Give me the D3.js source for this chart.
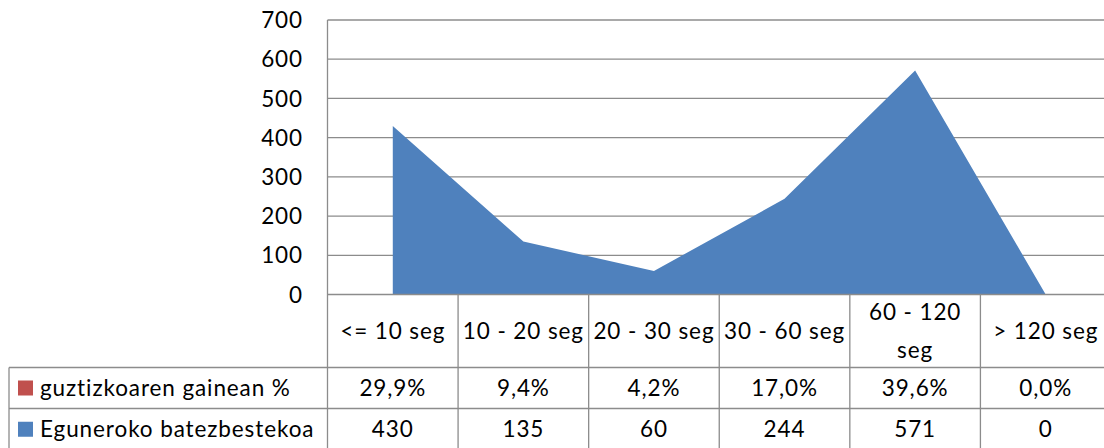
<!DOCTYPE html>
<html>
<head>
<meta charset="utf-8">
<script src="https://cdn.jsdelivr.net/npm/d3@7"></script>
<style>
  body { margin: 0; background: #fff; }
  text { font-family: Lato, "Open Sans", sans-serif; fill: #000; font-size: 22.5px; letter-spacing: 0.9px; }
</style>
</head>
<body>
<div class="chart"></div>
<script>
// data
var categories = ["<= 10 seg", "10 - 20 seg", "20 - 30 seg", "30 - 60 seg", "60 - 120 seg", "> 120 seg"];
var percentLabels = ["29,9%", "9,4%", "4,2%", "17,0%", "39,6%", "0,0%"];
var dailyAverage = [430, 135, 60, 244, 571, 0];
var yTicks = [0, 100, 200, 300, 400, 500, 600, 700];
var seriesNames = ["guztizkoaren gainean %", "Eguneroko batezbestekoa"];

var width = 1104, height = 448;
var plot = {left: 327.5, right: 1111, top: 20, bottom: 294.5};
var rowLines = [294.5, 367.5, 408.5, 450];
var legendLeft = 9;
var gridColor = "#8c8c8c";

var svg = d3.select(".chart").append("svg")
    .attr("width", width)
    .attr("height", height);

// scales
var x = d3.scaleBand().domain(categories).range([plot.left, plot.right]);
var y = d3.scaleLinear().domain([0, 700]).range([plot.bottom, plot.top]);

// gridlines
svg.append("g").selectAll("line")
    .data(yTicks.filter(function (d) { return d > 0; }))
    .enter().append("line")
    .attr("x1", plot.left).attr("x2", plot.right)
    .attr("y1", function (d) { return y(d); })
    .attr("y2", function (d) { return y(d); })
    .attr("stroke", gridColor).attr("stroke-width", 1.3);

// the area
var area = d3.area()
    .x(function (d, i) { return x(categories[i]) + x.bandwidth() / 2; })
    .y0(y(0))
    .y1(function (d) { return y(d); });

svg.append("path")
    .datum(dailyAverage)
    .attr("d", area)
    .attr("fill", "#4f81bd");

// y axis labels
svg.append("g").selectAll("text")
    .data(yTicks)
    .enter().append("text")
    .attr("x", 303)
    .attr("y", function (d) { return y(d); })
    .attr("dy", "0.36em")
    .attr("text-anchor", "end")
    .text(function (d) { return d; });

// table lines
var table = svg.append("g").attr("stroke", gridColor).attr("stroke-width", 1.3);

table.append("line")
    .attr("x1", plot.left).attr("x2", plot.right)
    .attr("y1", rowLines[0]).attr("y2", rowLines[0]);

table.selectAll(".hrow")
    .data(rowLines.slice(1))
    .enter().append("line")
    .attr("class", "hrow")
    .attr("x1", legendLeft).attr("x2", plot.right)
    .attr("y1", function (d) { return d; })
    .attr("y2", function (d) { return d; });

// left axis line + column boundaries
var bounds = categories.map(function (c) { return x(c); }).concat([plot.right]);
table.selectAll(".vcol")
    .data(bounds)
    .enter().append("line")
    .attr("class", "vcol")
    .attr("x1", function (d) { return d; })
    .attr("x2", function (d) { return d; })
    .attr("y1", function (d, i) { return i === 0 ? plot.top : plot.bottom; })
    .attr("y2", rowLines[3]);

table.append("line")
    .attr("x1", legendLeft).attr("x2", legendLeft)
    .attr("y1", rowLines[1]).attr("y2", rowLines[3]);

// category header row (wrap when too wide)
var header = svg.append("g").selectAll("text")
    .data(categories)
    .enter().append("text")
    .attr("text-anchor", "middle")
    .attr("x", function (d) { return x(d) + x.bandwidth() / 2; })
    .attr("y", (rowLines[0] + rowLines[1]) / 2)
    .attr("dy", "0.36em")
    .text(function (d) { return d; });

header.each(function (d) {
    var t = d3.select(this);
    if (this.getComputedTextLength() > x.bandwidth() - 4) {
        var words = d.split(" ");
        var first = words.slice(0, words.length - 1).join(" ");
        var last = words[words.length - 1];
        t.text(null);
        t.append("tspan").attr("x", t.attr("x")).attr("dy", "-0.5em").text(first);
        t.append("tspan").attr("x", t.attr("x")).attr("dy", "1.72em").text(last);
    }
});

// data rows
var rows = [percentLabels, dailyAverage];
var rowColors = ["#c0504d", "#4f81bd"];

rows.forEach(function (vals, r) {
    var cy = (rowLines[r + 1] + rowLines[r + 2]) / 2;
    svg.append("g").selectAll("text")
        .data(vals)
        .enter().append("text")
        .attr("text-anchor", "middle")
        .attr("x", function (d, i) { return x(categories[i]) + x.bandwidth() / 2; })
        .attr("y", cy)
        .attr("dy", "0.36em")
        .text(function (d) { return d; });

    svg.append("rect")
        .attr("x", 18).attr("y", cy - 7.5)
        .attr("width", 15).attr("height", 15)
        .attr("fill", rowColors[r]);

    svg.append("text")
        .attr("x", 40).attr("y", cy)
        .attr("dy", "0.36em")
        .text(seriesNames[r]);
});
</script>
</body>
</html>
